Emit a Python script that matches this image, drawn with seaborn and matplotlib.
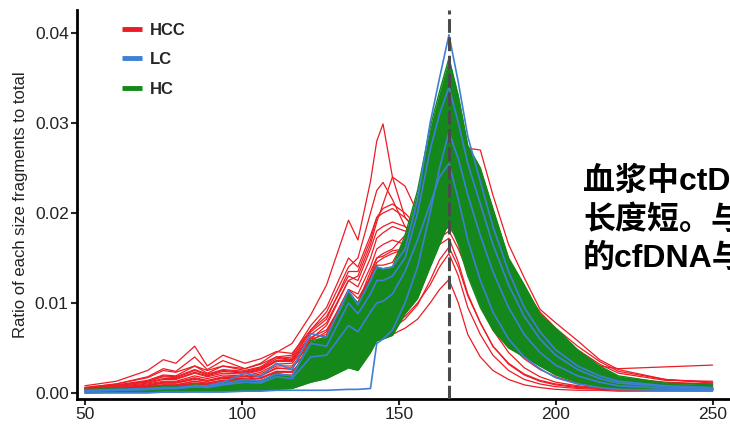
import matplotlib
matplotlib.use("Agg")
import matplotlib.pyplot as plt
import pandas as pd
import seaborn as sns
from matplotlib.lines import Line2D

sns.set_style("ticks")
plt.rcParams["font.family"] = ["Liberation Sans", "Noto Sans CJK SC", "DejaVu Sans"]

# Fragment sizes (bp) at which every profile is sampled
SIZES = [50, 60, 70, 75, 79, 85, 89, 94, 101, 106,
         111, 116, 122, 127, 134, 137, 141, 143, 145, 148,
         152, 156, 160, 163, 166, 169, 172, 176, 180, 185,
         190, 195, 200, 207, 214, 220, 235, 250]

# HCC profiles
hcc_01 = [.0006, .0010, .0017, .0025, .0023, .0030, .0025, .0030, .0027, .0033,
          .0045, .0055, .0087, .0120, .0192, .0170, .0235, .0280, .0299, .0240,
          .0195, .0180, .0185, .0195, .0210, .0195, .0170, .0140, .0110, .0080,
          .0058, .0040, .0028, .0016, .0010, .0008, .0006, .0005]
hcc_02 = [.0005, .0008, .0013, .0019, .0018, .0026, .0021, .0026, .0024, .0028,
          .0038, .0040, .0070, .0090, .0140, .0150, .0200, .0225, .0234, .0215,
          .0185, .0170, .0175, .0180, .0190, .0175, .0150, .0120, .0095, .0068,
          .0048, .0033, .0023, .0014, .0009, .0007, .0005, .0004]
hcc_03 = [.0004, .0007, .0011, .0015, .0015, .0022, .0018, .0022, .0021, .0025,
          .0035, .0035, .0060, .0075, .0125, .0130, .0165, .0190, .0210, .0240,
          .0230, .0200, .0190, .0190, .0200, .0185, .0160, .0130, .0100, .0072,
          .0050, .0035, .0024, .0015, .0010, .0008, .0006, .0005]
hcc_04 = [.0003, .0004, .0006, .0008, .0008, .0011, .0010, .0013, .0015, .0016,
          .0024, .0023, .0045, .0050, .0085, .0082, .0105, .0118, .0120, .0130,
          .0155, .0200, .0245, .0280, .0300, .0285, .0272, .0270, .0220, .0165,
          .0128, .0093, .0078, .0058, .0037, .0026, .0015, .0011]
hcc_05 = [.0003, .0005, .0008, .0011, .0011, .0015, .0013, .0016, .0016, .0019,
          .0027, .0028, .0050, .0060, .0100, .0100, .0130, .0150, .0155, .0160,
          .0175, .0190, .0200, .0210, .0220, .0205, .0185, .0160, .0135, .0105,
          .0082, .0062, .0048, .0035, .0030, .0027, .0029, .0031]
hcc_06 = [.0002, .0003, .0004, .0005, .0005, .0007, .0006, .0008, .0009, .0010,
          .0014, .0014, .0025, .0030, .0045, .0045, .0055, .0060, .0063, .0065,
          .0072, .0082, .0100, .0115, .0126, .0100, .0065, .0040, .0025, .0015,
          .0009, .0006, .0004, .0003, .0003, .0002, .0002, .0002]
hcc_07 = [.0002, .0003, .0005, .0006, .0006, .0008, .0007, .0009, .0010, .0011,
          .0016, .0016, .0030, .0033, .0052, .0050, .0062, .0068, .0070, .0075,
          .0085, .0100, .0120, .0140, .0155, .0130, .0095, .0065, .0042, .0025,
          .0015, .0010, .0007, .0005, .0004, .0003, .0003, .0003]
hcc_08 = [.0004, .0006, .0010, .0013, .0013, .0019, .0016, .0020, .0019, .0023,
          .0032, .0033, .0058, .0068, .0115, .0110, .0140, .0160, .0165, .0170,
          .0165, .0160, .0165, .0172, .0180, .0160, .0135, .0105, .0080, .0055,
          .0038, .0026, .0018, .0011, .0008, .0006, .0005, .0005]
hcc_09 = [.0008, .0013, .0025, .0037, .0033, .0052, .0030, .0042, .0033, .0038,
          .0046, .0044, .0070, .0085, .0130, .0125, .0160, .0180, .0185, .0190,
          .0185, .0175, .0170, .0175, .0185, .0170, .0145, .0118, .0092, .0065,
          .0045, .0030, .0021, .0013, .0009, .0007, .0006, .0005]
hcc_10 = [.0006, .0010, .0018, .0027, .0024, .0040, .0026, .0036, .0027, .0032,
          .0040, .0037, .0062, .0070, .0110, .0100, .0135, .0150, .0152, .0158,
          .0160, .0165, .0180, .0195, .0210, .0195, .0175, .0150, .0120, .0090,
          .0065, .0047, .0034, .0022, .0015, .0011, .0009, .0008]
hcc_11 = [.0003, .0005, .0008, .0011, .0011, .0016, .0013, .0017, .0018, .0019,
          .0028, .0026, .0060, .0065, .0115, .0105, .0128, .0142, .0142, .0145,
          .0170, .0205, .0245, .0262, .0270, .0255, .0230, .0205, .0175, .0138,
          .0110, .0085, .0068, .0048, .0032, .0022, .0014, .0013]
hcc_12 = [.0002, .0004, .0006, .0008, .0008, .0011, .0009, .0012, .0013, .0014,
          .0020, .0020, .0038, .0042, .0070, .0068, .0085, .0095, .0098, .0105,
          .0120, .0145, .0175, .0200, .0215, .0180, .0140, .0100, .0070, .0045,
          .0028, .0018, .0012, .0008, .0006, .0005, .0004, .0004]
hcc_13 = [.0003, .0005, .0007, .0009, .0009, .0013, .0011, .0014, .0015, .0017,
          .0024, .0024, .0045, .0052, .0085, .0082, .0100, .0112, .0115, .0120,
          .0130, .0140, .0155, .0165, .0172, .0145, .0110, .0078, .0052, .0032,
          .0020, .0013, .0009, .0006, .0005, .0004, .0004, .0004]
hcc_14 = [.0005, .0008, .0013, .0018, .0017, .0025, .0020, .0025, .0023, .0027,
          .0036, .0036, .0065, .0078, .0125, .0118, .0150, .0172, .0178, .0185,
          .0180, .0178, .0190, .0205, .0225, .0210, .0190, .0165, .0138, .0105,
          .0080, .0060, .0046, .0032, .0022, .0016, .0011, .0010]
hcc_15 = [.0004, .0006, .0009, .0012, .0012, .0017, .0014, .0018, .0018, .0021,
          .0030, .0030, .0055, .0063, .0105, .0100, .0128, .0145, .0150, .0155,
          .0160, .0168, .0180, .0192, .0205, .0188, .0165, .0138, .0110, .0080,
          .0058, .0042, .0030, .0019, .0013, .0010, .0008, .0007]
hcc_16 = [.0005, .0008, .0012, .0016, .0016, .0023, .0019, .0024, .0022, .0026,
          .0036, .0038, .0068, .0082, .0135, .0135, .0170, .0195, .0205, .0210,
          .0200, .0185, .0180, .0182, .0190, .0175, .0150, .0122, .0095, .0068,
          .0048, .0034, .0024, .0015, .0010, .0008, .0006, .0005]
hcc_17 = [.0002, .0003, .0005, .0007, .0007, .0010, .0009, .0011, .0012, .0013,
          .0019, .0019, .0036, .0040, .0065, .0062, .0078, .0088, .0090, .0098,
          .0115, .0140, .0165, .0182, .0195, .0185, .0172, .0152, .0128, .0100,
          .0078, .0060, .0047, .0034, .0024, .0017, .0012, .0010]
hcc_18 = [.0005, .0009, .0014, .0020, .0019, .0030, .0022, .0030, .0025, .0029,
          .0040, .0042, .0075, .0095, .0150, .0140, .0175, .0195, .0200, .0205,
          .0195, .0180, .0175, .0178, .0185, .0170, .0148, .0120, .0094, .0068,
          .0048, .0034, .0024, .0015, .0010, .0008, .0006, .0005]
hcc_19 = [.0003, .0005, .0007, .0009, .0009, .0013, .0011, .0014, .0015, .0016,
          .0023, .0023, .0048, .0055, .0092, .0088, .0112, .0125, .0128, .0135,
          .0150, .0175, .0205, .0225, .0240, .0230, .0215, .0195, .0170, .0140,
          .0115, .0090, .0072, .0052, .0035, .0024, .0015, .0012]
hcc_20 = [.0002, .0003, .0004, .0005, .0005, .0007, .0006, .0008, .0009, .0010,
          .0015, .0015, .0028, .0032, .0050, .0048, .0060, .0066, .0068, .0072,
          .0082, .0098, .0125, .0148, .0162, .0140, .0108, .0078, .0052, .0033,
          .0021, .0014, .0010, .0007, .0005, .0004, .0003, .0003]

# LC profiles
lc_01 = [.0003, .0004, .0005, .0006, .0006, .0008, .0008, .0012, .0022, .0018,
         .0033, .0026, .0066, .0062, .0114, .0098, .0125, .0140, .0138, .0140,
         .0160, .0215, .0300, .0350, .0398, .0345, .0285, .0235, .0185, .0135,
         .0095, .0068, .0048, .0030, .0019, .0013, .0008, .0006]
lc_02 = [.0002, .0003, .0004, .0005, .0005, .0007, .0006, .0009, .0012, .0011,
         .0018, .0016, .0040, .0042, .0075, .0068, .0090, .0100, .0102, .0110,
         .0135, .0170, .0210, .0240, .0255, .0215, .0170, .0125, .0090, .0060,
         .0040, .0027, .0017, .0010, .0006, .0004, .0003, .0003]
lc_03 = [.0000, .0000, .0000, .0001, .0001, .0001, .0001, .0001, .0002, .0002,
         .0003, .0003, .0003, .0003, .0004, .0004, .0005, .0055, .0060, .0070,
         .0100, .0140, .0200, .0250, .0290, .0260, .0220, .0175, .0135, .0095,
         .0065, .0045, .0031, .0019, .0012, .0008, .0005, .0004]
lc_04 = [.0002, .0003, .0004, .0005, .0005, .0007, .0007, .0010, .0015, .0013,
         .0021, .0019, .0055, .0052, .0100, .0088, .0110, .0125, .0125, .0130,
         .0150, .0200, .0270, .0310, .0340, .0300, .0255, .0210, .0165, .0120,
         .0085, .0060, .0042, .0026, .0016, .0011, .0007, .0005]

# HC profiles: the healthy-control cohort spans this band
hc_high = [.0004, .0005, .0006, .0007, .0007, .0009, .0008, .0011, .0015, .0013,
           .0022, .0019, .0058, .0062, .0112, .0100, .0125, .0140, .0138, .0140,
           .0175, .0225, .0295, .0335, .0372, .0330, .0275, .0250, .0205, .0150,
           .0120, .0088, .0072, .0048, .0030, .0019, .0011, .0009]
hc_low = [.0000, .0001, .0001, .0001, .0001, .0002, .0002, .0002, .0003, .0003,
          .0004, .0005, .0012, .0016, .0028, .0025, .0045, .0058, .0060, .0064,
          .0088, .0105, .0140, .0165, .0190, .0165, .0130, .0095, .0070, .0050,
          .0040, .0030, .0020, .0012, .0007, .0005, .0003, .0003]

HCC = [hcc_01, hcc_02, hcc_03, hcc_04, hcc_05, hcc_06, hcc_07, hcc_08, hcc_09, hcc_10,
       hcc_11, hcc_12, hcc_13, hcc_14, hcc_15, hcc_16, hcc_17, hcc_18, hcc_19, hcc_20]
LC = [lc_01, lc_02, lc_03, lc_04]

GROUPS = ["HCC", "LC", "HC"]
COLORS = {"HCC": "#ec1c24", "LC": "#3f7fd6", "HC": "#14881a"}
MODE_SIZE = 166
CAPTION = ["血浆中ctD", "长度短。与", "的cfDNA与"]


def long_table(profiles, group):
    rows = []
    for k, prof in enumerate(profiles):
        for s, v in zip(SIZES, prof):
            rows.append({"size": s, "ratio": v, "group": group, "sample": f"{group}{k}"})
    return pd.DataFrame(rows)


df_hcc = long_table(HCC, "HCC")
df_lc = long_table(LC, "LC")
df_hc = long_table([hc_low, hc_high], "HC")

fig = plt.figure(figsize=(7.3, 4.24), dpi=100)
ax = fig.add_axes([77 / 730, 25 / 424, 667 / 730, 389 / 424])

sns.lineplot(data=df_hcc, x="size", y="ratio", units="sample", estimator=None,
             color=COLORS["HCC"], linewidth=0.9, ax=ax, legend=False)
ax.fill_between(SIZES, hc_low, hc_high, color=COLORS["HC"], linewidth=0, zorder=2.5)
sns.lineplot(data=df_hc, x="size", y="ratio", units="sample", estimator=None,
             color=COLORS["HC"], linewidth=1.0, ax=ax, legend=False, zorder=2.6)
sns.lineplot(data=df_lc, x="size", y="ratio", units="sample", estimator=None,
             color=COLORS["LC"], linewidth=1.2, ax=ax, legend=False, zorder=2.7)

ax.axvline(MODE_SIZE, color="#4a4a4a", linewidth=2.2, dashes=(4.5, 1.5), zorder=4)

ax.set_xlim(47.5, 260)
ax.set_ylim(-0.00067, 0.04256)
ax.set_xticks([50, 100, 150, 200, 250])
ax.set_yticks([0.0, 0.01, 0.02, 0.03, 0.04])
ax.set_yticklabels(["0.00", "0.01", "0.02", "0.03", "0.04"])
ax.set_xlabel("")
ax.set_ylabel("Ratio of each size fragments to total", fontsize=12, color="#222222")
ax.yaxis.set_label_coords(-0.074, 0.5)

for side in ("top", "right"):
    ax.spines[side].set_visible(False)
for side in ("left", "bottom"):
    ax.spines[side].set_linewidth(2.0)
    ax.spines[side].set_color("black")
ax.tick_params(direction="out", length=4, width=1.5, labelsize=12.5,
               labelcolor="#222222", pad=2)

handles = [Line2D([0], [0], color=COLORS[g], linewidth=3.5, solid_capstyle="butt")
           for g in GROUPS]
leg = ax.legend(handles, GROUPS, loc="upper left", frameon=False,
                bbox_to_anchor=(122 / 730, 1 - 23 / 424), bbox_transform=fig.transFigure,
                handlelength=1.2, handletextpad=0.48, labelspacing=0.86,
                borderpad=0, borderaxespad=0, prop={"weight": "bold", "size": 12})

for i, line in enumerate(CAPTION):
    fig.text(583 / 730, 1 - (182 + 38.5 * i) / 424, line, fontsize=23,
             fontweight="bold", va="center", ha="left", color="black",
             family=["Liberation Sans", "Noto Sans CJK SC"])

fig.savefig("out.png", dpi=100)
